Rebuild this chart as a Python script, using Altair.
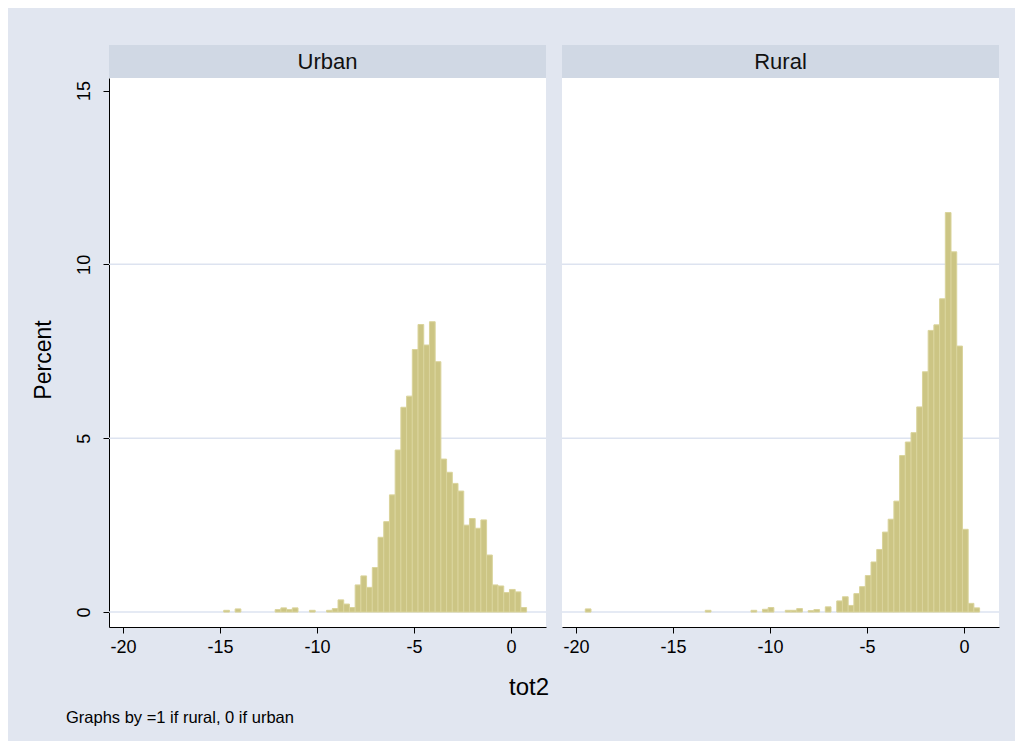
import altair as alt
import pandas as pd

FONT = "Liberation Sans"
BG = "#E1E6F0"
HEAD = "#D0D8E4"
GRID = "#DDE3F0"
BAR = "#CCC584"
BAR_EDGE = "#DAD49C"

# histogram bins (shared): lower edge of bin k = BIN_START + k*BIN_WIDTH
BIN_START = -19.52
BIN_WIDTH = 0.2945

urban_bins = [16, 18, 25, 26, 27, 28, 31, 34, 35] + list(range(36, 69))
urban_pct = [0.05, 0.09, 0.07, 0.12, 0.07, 0.12, 0.05, 0.05, 0.10,
             0.35, 0.23, 0.13, 0.78, 1.04, 0.71, 1.28, 2.15, 2.60, 3.37,
             4.66, 5.89, 6.21, 7.55, 8.27, 7.68, 8.35, 7.20,
             4.40, 4.02, 3.70, 3.48, 2.50, 2.69, 2.41, 2.65, 1.64,
             0.78, 0.75, 0.56, 0.65, 0.58, 0.13]

rural_bins = [0, 21, 29, 31, 32, 35, 36, 37, 39, 40, 42] + list(range(44, 69))
rural_pct = [0.09, 0.05, 0.05, 0.08, 0.13, 0.05, 0.05, 0.10, 0.04, 0.07, 0.15,
             0.32, 0.44, 0.19, 0.53, 0.73,
             1.05, 1.44, 1.80, 2.30, 2.67, 3.19,
             4.50, 4.89, 5.16, 5.90, 6.91,
             8.10, 8.26, 9.01, 11.49, 10.36, 7.65,
             2.38, 0.25, 0.12]

panel_titles = ["Urban", "Rural"]
x_ticks = [-20, -15, -10, -5, 0]
y_ticks = [0, 5, 10, 15]
grid_vals = [0, 5, 10]

W, H = 437, 549
XDOM = [-20.72, 1.80]
YDOM = [-0.43, 15.36]

xscale = alt.Scale(domain=XDOM, nice=False, zero=False)
yscale = alt.Scale(domain=YDOM, nice=False, zero=False)

xaxis = alt.Axis(values=x_ticks, labelExpr="'' + datum.value", grid=False,
                 domainColor="#000000", tickColor="#000000", tickSize=6,
                 labelFontSize=18, labelFont=FONT, labelColor="#000000",
                 labelPadding=5, title=None)


def panel(name, bins, pct, show_y, extras=None):
    df = pd.DataFrame({"bin": bins, "pct": pct})
    if show_y:
        yaxis = alt.Axis(values=y_ticks, grid=False, domainColor="#000000",
                         tickColor="#000000", tickSize=6, labelAngle=270,
                         labelAlign="center", labelBaseline="bottom",
                         labelFontSize=18, labelFont=FONT, labelColor="#000000",
                         labelPadding=10, title=None)
    else:
        yaxis = None
    grid = alt.Chart(pd.DataFrame({"g": grid_vals})).mark_rule(
        color=GRID, strokeWidth=1.5).encode(
        y=alt.Y("g:Q", scale=yscale, axis=yaxis))
    bars = alt.Chart(df).transform_calculate(
        x0=f"{BIN_START} + datum.bin*{BIN_WIDTH}",
        x1=f"{BIN_START} + (datum.bin+1)*{BIN_WIDTH}",
        zero="0",
    ).mark_rect(fill=BAR, stroke=BAR_EDGE, strokeWidth=1).encode(
        x=alt.X("x0:Q", scale=xscale, axis=xaxis),
        x2="x1:Q",
        y=alt.Y("pct:Q", scale=yscale, axis=yaxis),
        y2="zero:Q",
    )
    tdf = pd.DataFrame({"t": [name]})
    head = alt.Chart(tdf).mark_rect(fill=HEAD).encode(
        x=alt.value(0), x2=alt.value(W), y=alt.value(-33), y2=alt.value(0))
    htxt = alt.Chart(tdf).mark_text(font=FONT, fontSize=22, color="#111111",
                                    baseline="middle").encode(
        x=alt.value(W / 2), y=alt.value(-16), text="t:N")
    layers = []
    if extras is not None:
        layers.extend(extras)
    layers.extend([grid, bars, head, htxt])
    return alt.layer(*layers).properties(width=W, height=H)


labels_df = pd.DataFrame({"t": ["x"]})
bounds_rect = alt.Chart(labels_df).mark_rect(opacity=0).encode(
    x=alt.value(-101), x2=alt.value(906), y=alt.value(-70), y2=alt.value(663))
percent_txt = alt.Chart(pd.DataFrame({"t": ["Percent"]})).mark_text(
    font=FONT, fontSize=23, angle=270, color="#000000", baseline="middle").encode(
    x=alt.value(-65), y=alt.value(282), text="t:N")
tot2_txt = alt.Chart(pd.DataFrame({"t": ["tot2"]})).mark_text(
    font=FONT, fontSize=24, color="#000000", baseline="middle").encode(
    x=alt.value(420), y=alt.value(610), text="t:N")
note_txt = alt.Chart(pd.DataFrame({"t": ["Graphs by =1 if rural, 0 if urban"]})).mark_text(
    font=FONT, fontSize=16.5, color="#000000", align="left", baseline="middle").encode(
    x=alt.value(-43), y=alt.value(640), text="t:N")

left = panel(panel_titles[0], urban_bins, urban_pct, True,
             extras=[bounds_rect, percent_txt, tot2_txt, note_txt])
right = panel(panel_titles[1], rural_bins, rural_pct, False)

chart = alt.HConcatChart(hconcat=[left, right], spacing=16, bounds="flush").resolve_scale(
    x="independent", y="independent").properties(
    padding=0, background=BG).configure_view(fill="white", stroke=None)

chart.save("out.html", embed_options={"renderer": "svg", "actions": False})
